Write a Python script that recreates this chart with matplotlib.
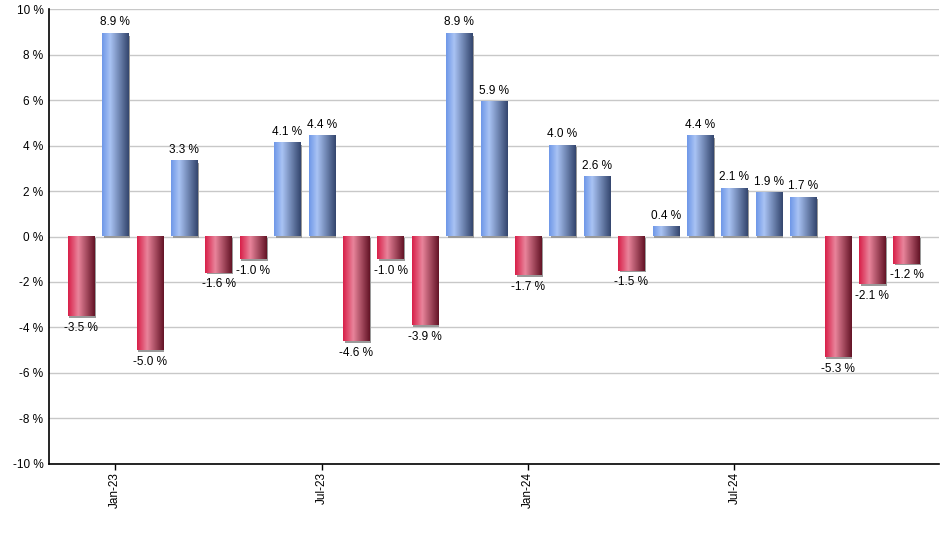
import numpy as np
import matplotlib
matplotlib.use('Agg')
import matplotlib.pyplot as plt
import matplotlib.transforms as mtransforms
from matplotlib.colors import LinearSegmentedColormap

# Monthly returns, Dec-22 .. Dec-24
months = ['Dec-22', 'Jan-23', 'Feb-23', 'Mar-23', 'Apr-23', 'May-23', 'Jun-23',
          'Jul-23', 'Aug-23', 'Sep-23', 'Oct-23', 'Nov-23', 'Dec-23', 'Jan-24',
          'Feb-24', 'Mar-24', 'Apr-24', 'May-24', 'Jun-24', 'Jul-24', 'Aug-24',
          'Sep-24', 'Oct-24', 'Nov-24', 'Dec-24']
returns = [-3.5, 8.9, -5.0, 3.3, -1.6, -1.0, 4.1, 4.4, -4.6, -1.0, -3.9, 8.9,
           5.9, -1.7, 4.0, 2.6, -1.5, 0.4, 4.4, 2.1, 1.9, 1.7, -5.3, -2.1, -1.2]
tick_months = ['Jan-23', 'Jul-23', 'Jan-24', 'Jul-24']
y_ticks = [-10, -8, -6, -4, -2, 0, 2, 4, 6, 8, 10]

plt.rcParams['font.family'] = ['Liberation Sans', 'DejaVu Sans']

blue_cmap = LinearSegmentedColormap.from_list(
    'blue', [(0.0, '#6f98e8'), (0.3, '#a9c3f4'), (1.0, '#34466e')])
red_cmap = LinearSegmentedColormap.from_list(
    'red', [(0.0, '#d82049'), (0.38, '#e9849b'), (1.0, '#641426')])
grad = np.linspace(0, 1, 64).reshape(1, -1)

fig = plt.figure(figsize=(9.4, 5.5), dpi=100)
ax = fig.add_axes([0.0521, 0.1564, 0.947, 0.8272])

width = 0.76
x = np.arange(len(returns))
shadow = mtransforms.offset_copy(ax.transData, fig=fig, x=1.5, y=-1.5, units='dots')

for xi, v in zip(x, returns):
    # soft gray drop shadow
    ax.add_patch(plt.Rectangle((xi - width / 2, 0), width, v, facecolor='#9a9a9a',
                               edgecolor='none', transform=shadow, zorder=2))
    cmap = blue_cmap if v >= 0 else red_cmap
    ax.imshow(grad, cmap=cmap, aspect='auto', interpolation='bilinear',
              extent=(xi - width / 2, xi + width / 2, 0, v), zorder=3)
    if v >= 0:
        ax.annotate(f'{v:.1f} %', (xi, v), xytext=(0, 4), textcoords='offset points',
                    ha='center', va='bottom', fontsize=8.5, zorder=4)
    else:
        ax.annotate(f'{v:.1f} %', (xi, v), xytext=(0, -4), textcoords='offset points',
                    ha='center', va='top', fontsize=8.5, zorder=4)

ax.set_xlim(-0.93, 24.95)
ax.set_ylim(-10, 10)
ax.set_yticks(y_ticks)
ax.set_yticklabels([f'{t} %' for t in y_ticks], fontsize=8.5)
ax.tick_params(axis='y', length=0, pad=4)
ax.set_xticks([months.index(m) for m in tick_months])
ax.set_xticklabels(tick_months, rotation=90, fontsize=8.5)
ax.tick_params(axis='x', length=4, width=1, direction='out', pad=2)

ax.yaxis.grid(True, color='#c8c8c8', linewidth=1)
ax.set_axisbelow(True)
ax.spines['top'].set_visible(False)
ax.spines['right'].set_visible(False)
ax.spines['left'].set_linewidth(1.2)
ax.spines['bottom'].set_linewidth(1.2)

fig.savefig('out.png', dpi=100)
